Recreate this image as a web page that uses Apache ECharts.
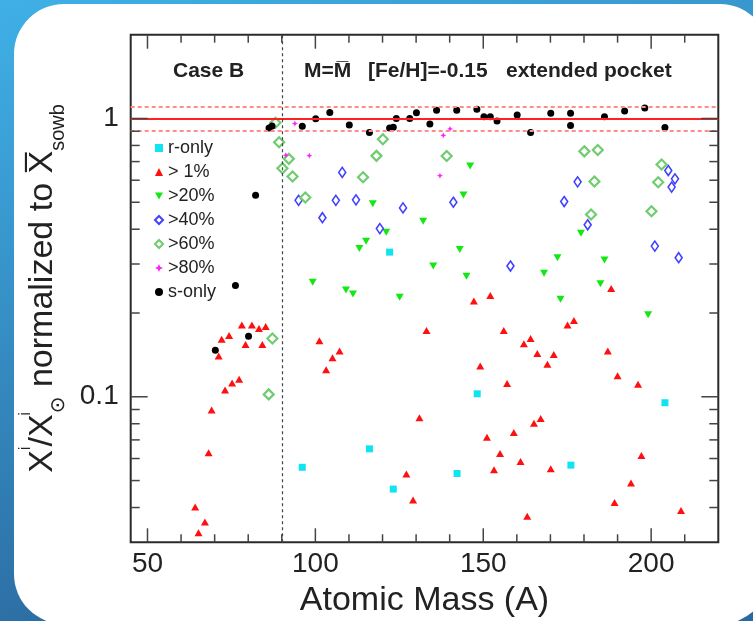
<!DOCTYPE html>
<html>
<head>
<meta charset="utf-8">
<script src="https://cdn.jsdelivr.net/npm/echarts@6/dist/echarts.min.js"></script>
<style>
html,body{margin:0;padding:0;background:#fff;}
#chart{width:753px;height:621px;}
</style>
</head>
<body>
<div id="chart"></div>
<script>
// ---- data (atomic mass A, normalized abundance) ----
const rOnlyX = [96.1, 116.1, 122.1, 123.2, 142.2, 148.2, 176.1, 204.1];
const rOnlyY = [0.0558, 0.065, 0.331, 0.0466, 0.053, 0.1025, 0.0568, 0.0952];

const p1X = [64.2, 65.2, 67.1, 68.2, 69.1, 71.2, 72.1, 73.1, 74.3, 75.2, 77.3, 78.1, 79.2, 81.1, 83.2, 84.2, 85.2,
  101.2, 103.2, 105.1, 107.2, 127.1, 129.1, 131.0, 133.1, 147.2, 149.1, 151.1, 152.1, 153.2, 155.0, 156.1, 157.1,
  159.1, 161.1, 162.1, 163.1, 164.1, 165.1, 166.1, 167.1, 169.1, 170.1, 171.0, 175.1, 177.0, 187.1, 188.1, 189.1,
  190.0, 194.0, 196.1, 197.1, 208.9];
const p1Y = [0.0402, 0.0325, 0.0355, 0.0629, 0.0896, 0.140, 0.161, 0.1057, 0.166, 0.112, 0.1157, 0.181, 0.154, 0.181, 0.176, 0.154, 0.179,
  0.159, 0.125, 0.138, 0.146, 0.0528, 0.0426, 0.084, 0.173, 0.221, 0.129, 0.0715, 0.231, 0.0547, 0.0625, 0.173, 0.1117,
  0.0744, 0.0586, 0.155, 0.0372, 0.162, 0.0804, 0.143, 0.0835, 0.131, 0.0551, 0.142, 0.181, 0.188, 0.146, 0.245, 0.0417,
  0.119, 0.049, 0.111, 0.0615, 0.039];

const p20X = [99.2, 109.1, 111.2, 113.1, 115.1, 117.1, 121.1, 125.1, 132.1, 135.1, 143.0, 144.1, 145.0, 146.1,
  168.1, 172.1, 173.0, 179.1, 184.9, 186.1, 199.1];
const p20Y = [0.258, 0.242, 0.234, 0.341, 0.362, 0.494, 0.39, 0.228, 0.427, 0.295, 0.338, 0.531, 0.271, 0.675,
  0.278, 0.316, 0.224, 0.387, 0.255, 0.31, 0.197];

const p40X = [95.0, 102.1, 106.1, 108.0, 112.1, 119.2, 126.1, 141.1, 158.1, 174.1, 178.1, 181.1, 201.1, 205.1, 206.1, 207.1, 208.2];
const p40Y = [0.508, 0.44, 0.508, 0.64, 0.51, 0.402, 0.477, 0.5, 0.295, 0.503, 0.592, 0.415, 0.348, 0.65, 0.567, 0.607, 0.316];

const p60X = [86.1, 87.2, 88.1, 89.2, 90.2, 92.1, 93.2, 97.0, 114.2, 118.2, 120.1, 139.1, 180.1, 182.1, 183.1, 184.1, 200.1, 202.1, 203.1];
const p60Y = [0.102, 0.162, 0.965, 0.821, 0.662, 0.716, 0.619, 0.52, 0.615, 0.734, 0.842, 0.733, 0.762, 0.452, 0.594, 0.77, 0.464, 0.59, 0.683];

const p80X = [91.2, 93.9, 98.2, 137.1, 138.1, 140.1];
const p80Y = [0.738, 0.959, 0.735, 0.623, 0.87, 0.917];

const sOnlyX = [70.2, 76.2, 80.1, 82.2, 86.2, 87.1, 96.1, 100.1, 104.3, 110.1, 116.1, 122.1, 123.2, 124.1, 128.1, 130.1,
  134.1, 136.1, 142.1, 148.1, 150.2, 152.1, 154.1, 160.1, 164.1, 170.1, 176.0, 176.0, 186.1, 192.1, 198.1, 204.1];
const sOnlyY = [0.147, 0.251, 0.165, 0.53, 0.925, 0.94, 0.937, 0.997, 1.05, 0.948, 0.89, 0.925, 0.93, 1.0, 1.0, 1.048,
  0.955, 1.07, 1.07, 1.08, 1.015, 1.015, 0.98, 1.03, 0.89, 1.045, 1.045, 0.944, 1.015, 1.063, 1.09, 0.928];

const seriesNames = ['r-only', '> 1%', '>20%', '>40%', '>60%', '>80%', 's-only'];

// reference lines
const refLineY = 1;
const bandLinesY = [1.1, 0.9];
const splitX = 90;

// axis ticks / labels
const xRange = [45, 220];
const yRange = [0.03, 2];
const xTickLabels = [50, 100, 150, 200];
const xMinorTicks = [60, 70, 80, 90, 110, 120, 130, 140, 160, 170, 180, 190, 210];
const yTickLabels = [0.1, 1];
const yMinorTicks = [0.04, 0.05, 0.06, 0.07, 0.08, 0.09, 0.2, 0.3, 0.4, 0.5, 0.6, 0.7, 0.8, 0.9];

function zip(xs, ys) { return xs.map((x, i) => [x, ys[i]]); }

const tickData = []
  .concat(xTickLabels.map(v => [v, 1, 0, 1]))
  .concat(xMinorTicks.map(v => [v, 1, 0, 0]))
  .concat(yTickLabels.map(v => [100, v, 1, 1]))
  .concat(yMinorTicks.map(v => [100, v, 1, 0]));

const chart = echarts.init(document.getElementById('chart'), null, {renderer: 'canvas'});
const FONT = '"Liberation Sans", Arial, Helvetica, sans-serif';

const starPath = 'path://M0,-10 L3,-3 L10,0 L3,3 L0,10 L-3,3 L-10,0 L-3,-3 Z';
const downTriPath = 'path://M0,0 L10,0 L5,9 Z';

const option = {
  animation: false,
  backgroundColor: 'transparent',
  graphic: [
    { type: 'rect', z: -100, silent: true, shape: {x: 0, y: 0, width: 753, height: 621},
      style: { fill: { type: 'linear', x: 0, y: 0, x2: 0.25, y2: 1,
        colorStops: [{offset: 0, color: '#3fb0e6'}, {offset: 1, color: '#2b6aa0'}] } } },
    { type: 'rect', z: -99, silent: true, shape: {x: 14, y: 4, width: 756, height: 620, r: 50},
      style: { fill: '#ffffff' } },
    { type: 'text', z: 100, left: 173, top: 61, style: { text: 'Case B', font: 'bold 21px ' + FONT, fill: '#222' } },
    { type: 'text', z: 100, left: 304, top: 61, style: { text: 'M=M\u0305', font: 'bold 21px ' + FONT, fill: '#222' } },
    { type: 'text', z: 100, left: 368, top: 61, style: { text: '[Fe/H]=-0.15', font: 'bold 21px ' + FONT, fill: '#222' } },
    { type: 'text', z: 100, left: 506, top: 61, style: { text: 'extended pocket', font: 'bold 21px ' + FONT, fill: '#222' } }
  ],
  grid: {
    left: 130.7, right: 34.7, top: 34.7, bottom: 78.7,
    show: true, borderColor: '#2a2a2a', borderWidth: 2, backgroundColor: 'transparent',
    containLabel: false, outerBoundsMode: 'none'
  },
  legend: {
    orient: 'vertical', left: 154, top: 139, padding: 0,
    itemWidth: 8, itemHeight: 8, itemGap: 6,
    data: seriesNames,
    textStyle: { fontSize: 18, fontFamily: FONT, color: '#222', lineHeight: 18 },
    selectedMode: false
  },
  xAxis: {
    type: 'value', min: xRange[0], max: xRange[1], interval: 5,
    axisLine: { show: false }, axisTick: { show: false }, splitLine: { show: false },
    axisLabel: {
      margin: 8, fontSize: 28, fontFamily: FONT, color: '#222',
      showMinLabel: true, showMaxLabel: true,
      formatter: v => xTickLabels.some(t => Math.abs(t - v) < 1e-6) ? String(v) : ''
    },
    name: 'Atomic Mass (A)', nameLocation: 'middle', nameGap: 36,
    nameTextStyle: { fontSize: 34, fontFamily: FONT, color: '#222' }
  },
  yAxis: {
    type: 'log', logBase: 10, min: yRange[0], max: yRange[1],
    axisLine: { show: false }, axisTick: { show: false }, splitLine: { show: false }, minorTick: {show: false},
    axisLabel: {
      margin: 12, fontSize: 28, fontFamily: FONT, color: '#222',
      formatter: v => {
        const t = yTickLabels.find(t => Math.abs(t - v) < 1e-6 * t);
        return t !== undefined ? String(t) : '';
      }
    },
    name: '{a|X}{sup|i}{a|/X}{sup0|i}{sub2|\u2299}{a| normalized to }{a|X\u0305}{sub|sowb}',
    nameLocation: 'middle', nameRotate: 90, nameGap: 61,
    nameTextStyle: {
      rich: {
        a: { fontSize: 34, fontFamily: FONT, color: '#222', lineHeight: 52, verticalAlign: 'middle' },
        sup: { fontSize: 17, fontFamily: FONT, color: '#222', lineHeight: 36, verticalAlign: 'top' },
        sup0: { fontSize: 17, fontFamily: FONT, color: '#222', lineHeight: 36, verticalAlign: 'top', width: 1 },
        sub2: { fontSize: 20, fontFamily: '"DejaVu Sans", sans-serif', color: '#222', lineHeight: 36, verticalAlign: 'bottom' },
        sub: { fontSize: 20, fontFamily: FONT, color: '#222', lineHeight: 16, verticalAlign: 'bottom' }
      }
    }
  },
  series: [
    {
      name: 'ticks', type: 'custom', silent: true, z: 5, data: tickData,
      encode: { x: 0, y: 1 },
      renderItem: function (params, api) {
        const cs = params.coordSys;
        const kind = api.value(2), major = api.value(3);
        const st = { stroke: '#444', lineWidth: 1.5 };
        if (kind === 0) {
          const p = api.coord([api.value(0), 1]);
          const len = major ? 14 : 8;
          const b = cs.y + cs.height, t = cs.y;
          return { type: 'group', children: [
            { type: 'line', shape: { x1: p[0], y1: b, x2: p[0], y2: b - len }, style: st },
            { type: 'line', shape: { x1: p[0], y1: t, x2: p[0], y2: t + len }, style: st }
          ]};
        } else {
          const p = api.coord([100, api.value(1)]);
          const len = major ? 17 : 9;
          const l = cs.x, r = cs.x + cs.width;
          return { type: 'group', children: [
            { type: 'line', shape: { x1: l, y1: p[1], x2: l + len, y2: p[1] }, style: st },
            { type: 'line', shape: { x1: r, y1: p[1], x2: r - len, y2: p[1] }, style: st }
          ]};
        }
      },
      markLine: {
        silent: true, symbol: ['none', 'none'], label: { show: false },
        data: [
          { yAxis: refLineY, lineStyle: { color: '#ff2020', width: 2, type: 'solid' } },
          { yAxis: bandLinesY[0], lineStyle: { color: '#ff8c8c', width: 2, type: [4, 3] } },
          { yAxis: bandLinesY[1], lineStyle: { color: '#ff8c8c', width: 2, type: [4, 3] } },
          { xAxis: splitX, lineStyle: { color: '#444', width: 1.2, type: [3, 3] } }
        ]
      }
    },
    { name: 'r-only', type: 'scatter', data: zip(rOnlyX, rOnlyY), symbol: 'rect', symbolSize: 7,
      itemStyle: { color: '#10e4f0', opacity: 1 } },
    { name: '> 1%', type: 'scatter', data: zip(p1X, p1Y), symbol: 'triangle', symbolSize: [8, 7],
      itemStyle: { color: '#ff1010', opacity: 1 } },
    { name: '>20%', type: 'scatter', data: zip(p20X, p20Y), symbol: downTriPath, symbolSize: [8, 7],
      itemStyle: { color: '#14e814', opacity: 1 } },
    { name: '>40%', type: 'scatter', data: zip(p40X, p40Y), symbol: 'diamond', symbolSize: [7, 10],
      itemStyle: { color: '#ffffff', borderColor: '#4040ff', borderWidth: 1.6, opacity: 1 } },
    { name: '>60%', type: 'scatter', data: zip(p60X, p60Y), symbol: 'diamond', symbolSize: [10, 10],
      itemStyle: { color: '#ffffff', borderColor: '#70cc70', borderWidth: 2.2, opacity: 1 } },
    { name: '>80%', type: 'scatter', data: zip(p80X, p80Y), symbol: starPath, symbolSize: 6,
      itemStyle: { color: '#ff20ff', opacity: 1 } },
    { name: 's-only', type: 'scatter', data: zip(sOnlyX, sOnlyY), symbol: 'circle', symbolSize: 7,
      itemStyle: { color: '#000000', opacity: 1 } }
  ]
};
chart.setOption(option);
</script>
</body>
</html>
